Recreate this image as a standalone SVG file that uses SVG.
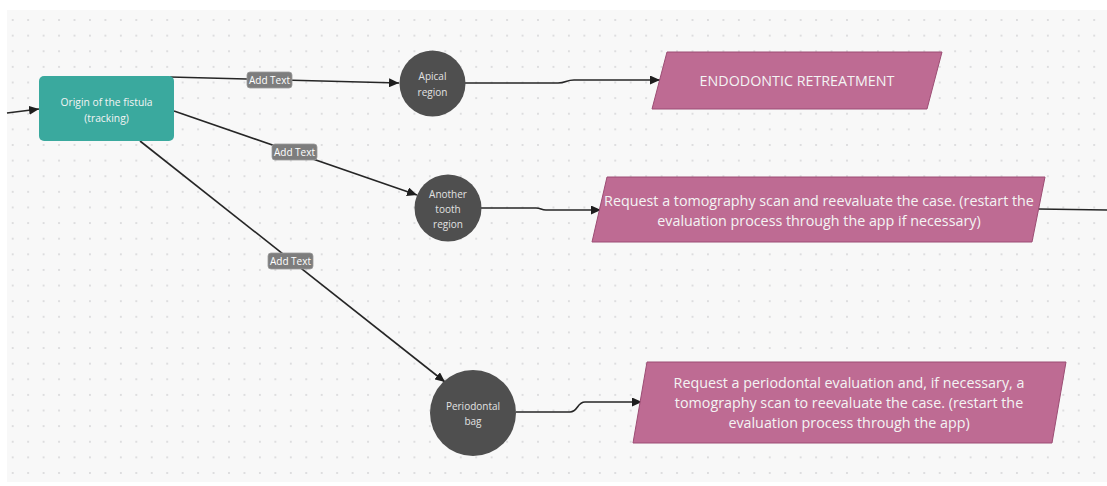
<svg xmlns="http://www.w3.org/2000/svg" width="1107" height="486" viewBox="0 0 1107 486">
  <defs>
    <pattern id="dots" patternUnits="userSpaceOnUse" x="5" y="12.2" width="15.45" height="15.62">
      <circle cx="7.7" cy="7.8" r="1" fill="#d6d6d8"/>
    </pattern>
    <marker id="arrow" markerUnits="userSpaceOnUse" markerWidth="11" markerHeight="9" refX="10" refY="4.5" orient="auto">
      <path d="M0,0 L10,4.5 L0,9 z" fill="#1e1e1e"/>
    </marker>
    <style>
      .conn { fill: none; stroke: #262626; stroke-width: 1.6; marker-end: url(#arrow); }
      .plain { fill: none; stroke: #262626; stroke-width: 1.6; }
      .lbl rect { fill: #7d7d7d; stroke: #9a9a9a; stroke-width: 0.8; }
      .lbl text { fill: #ffffff; font-family: "Open Sans", "Liberation Sans", sans-serif; font-size: 10px; text-anchor: middle; }
      .teal { fill: #3aa99e; }
      .circ { fill: #4f4f4f; }
      .pink { fill: #be6b93; stroke: #9c4d74; stroke-width: 1; }
      .t-white { fill: #f4f4f4; font-family: "Open Sans", "Liberation Sans", sans-serif; text-anchor: middle; }
      .t-circ { fill: #e2e2e2; }
      .t-small { font-size: 10px; }
      .t-teal { font-size: 10.3px; }
      .t-large { font-size: 14.3px; }
    </style>
  </defs>

  <rect x="0" y="0" width="1107" height="486" fill="#ffffff"/>
  <rect x="7" y="10" width="1100" height="472" fill="#f8f8f8"/>
  <rect x="7" y="10" width="1100" height="472" fill="url(#dots)"/>

  <g id="connectors">
    <path class="conn" d="M7,113 L39,109"/>
    <path class="conn" d="M170,77 L399,83"/>
    <path class="conn" d="M174,111 L417,195"/>
    <path class="conn" d="M140,141 L445,382"/>
    <path class="conn" d="M465,83 L558,83 C566,83 566,80 574,80 L660,80"/>
    <path class="conn" d="M481,208 L536,208 C541,208 541,210 546,210 L601,210"/>
    <path class="conn" d="M516,412 L570,412 C578,412 577,402 585,402 L642,402"/>
    <path class="plain" d="M1038,209 L1107,210"/>
    <g class="lbl">
      <rect x="247" y="72" width="45" height="16" rx="3"/>
      <text x="269.5" y="83.5">Add Text</text>
    </g>
    <g class="lbl">
      <rect x="272" y="144" width="45" height="16" rx="3"/>
      <text x="294.5" y="155.5">Add Text</text>
    </g>
    <g class="lbl">
      <rect x="268" y="253" width="45" height="16" rx="3"/>
      <text x="290.5" y="264.5">Add Text</text>
    </g>
  </g>

  <g id="origin">
    <rect class="teal" x="39" y="76" width="135" height="65" rx="5"/>
    <text class="t-white t-teal" x="106.5" y="105.5">Origin of the fistula</text>
    <text class="t-white t-teal" x="106.5" y="121.5">(tracking)</text>
  </g>

  <g id="apical">
    <circle class="circ" cx="432.5" cy="83.5" r="33"/>
    <text class="t-white t-circ t-small" x="432.5" y="79.5">Apical</text>
    <text class="t-white t-circ t-small" x="432.5" y="96">region</text>
  </g>

  <g id="another">
    <circle class="circ" cx="448" cy="208" r="33.5"/>
    <text class="t-white t-circ t-small" x="448" y="197.5">Another</text>
    <text class="t-white t-circ t-small" x="448" y="212.5">tooth</text>
    <text class="t-white t-circ t-small" x="448" y="227.5">region</text>
  </g>

  <g id="periodontal">
    <circle class="circ" cx="473" cy="413" r="43"/>
    <text class="t-white t-circ t-small" x="473" y="409.5">Periodontal</text>
    <text class="t-white t-circ t-small" x="473" y="424.5">bag</text>
  </g>

  <g id="endo">
    <polygon class="pink" points="667,52 942,52 927,109 652,109"/>
    <text class="t-white t-large" x="797" y="86">ENDODONTIC RETREATMENT</text>
  </g>

  <g id="tomography">
    <polygon class="pink" points="607,177 1045,177 1032,242 592,242"/>
    <text class="t-white t-large" x="819" y="205.5">Request a tomography scan and reevaluate the case. (restart the</text>
    <text class="t-white t-large" x="819" y="226">evaluation process through the app if necessary)</text>
  </g>

  <g id="periodontal-eval">
    <polygon class="pink" points="647,362 1066,362 1052,443 633,443"/>
    <text class="t-white t-large" x="849" y="388">Request a periodontal evaluation and, if necessary, a</text>
    <text class="t-white t-large" x="849" y="408">tomography scan to reevaluate the case. (restart the</text>
    <text class="t-white t-large" x="849" y="428">evaluation process through the app)</text>
  </g>
</svg>
